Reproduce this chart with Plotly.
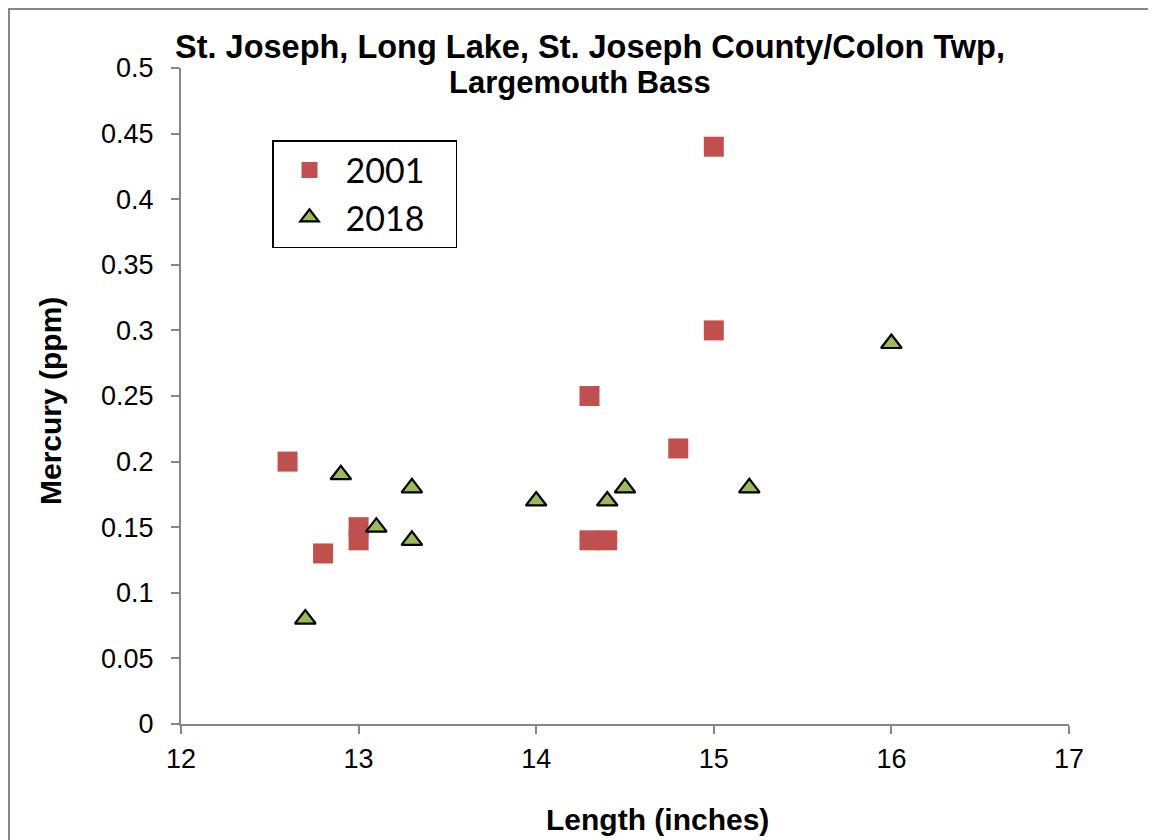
import plotly.graph_objects as go

x_2001 = [12.6, 12.8, 13.0, 13.0, 14.3, 14.3, 14.4, 14.8, 15.0, 15.0]
y_2001 = [0.20, 0.13, 0.15, 0.14, 0.25, 0.14, 0.14, 0.21, 0.44, 0.30]
x_2018 = [12.7, 12.9, 13.1, 13.3, 13.3, 14.0, 14.4, 14.5, 15.2, 16.0]
y_2018 = [0.08, 0.19, 0.15, 0.18, 0.14, 0.17, 0.17, 0.18, 0.18, 0.29]

series_names = ["2001", "2018"]
title_lines = ["St. Joseph, Long Lake, St. Joseph County/Colon Twp,", "Largemouth Bass"]
x_title = "Length (inches)"
y_title = "Mercury (ppm)"

ARIAL = "Arial, Liberation Sans, sans-serif"

# page offset of the plot div (body margin)
OFF = 8
PL, PR, PT, PB = 181, 1069, 68, 724  # plot area in page pixels


def px(page_x):
    return (page_x - PL) / (PR - PL)


def py(page_y):
    return (PB - page_y) / (PB - PT)


fig = go.Figure()
fig.add_trace(go.Scatter(x=x_2001, y=y_2001, mode="markers", name=series_names[0] + "\u2003",
                         marker=dict(symbol="square", size=20, color="#C0504D",
                                     line=dict(width=0))))
fig.add_trace(go.Scatter(x=x_2018, y=y_2018, mode="markers", name=series_names[1] + "\u2003",
                         marker=dict(symbol="triangle-up", size=18, color="#9BBB59",
                                     line=dict(width=2.2, color="black"))))

axis_common = dict(showgrid=False, zeroline=False, showline=True, linecolor="#868686",
                   linewidth=2, ticks="outside", ticklen=8, tickwidth=2, tickcolor="#868686",
                   tickfont=dict(family=ARIAL, size=27, color="black"))

fig.update_xaxes(range=[12, 17], dtick=1, ticklabelstandoff=2, **axis_common)
fig.update_yaxes(range=[0, 0.5], dtick=0.05, tickformat="~g", ticklabelstandoff=12, **axis_common)

W, H = 1156 - OFF, 840 - OFF
fig.update_layout(
    width=W, height=H,
    margin=dict(l=PL - OFF, r=W - (PR - OFF), t=PT - OFF, b=H - (PB - OFF)),
    paper_bgcolor="white", plot_bgcolor="white",
    showlegend=True,
    legend=dict(x=px(272), y=py(140), xanchor="left", yanchor="top",
                bordercolor="black", borderwidth=1.5, bgcolor="white",
                font=dict(family="Lato, Carlito, sans-serif", size=34, color="black"),
                itemwidth=62, tracegroupgap=0),
    annotations=[
        dict(text="<b>" + title_lines[0] + "</b>", xref="paper", yref="paper",
             x=px(590), y=py(47), xanchor="center", yanchor="middle",
             showarrow=False, font=dict(family=ARIAL, size=32.5, color="black")),
        dict(text="<b>" + title_lines[1] + "</b>", xref="paper", yref="paper",
             x=px(580), y=py(83), xanchor="center", yanchor="middle",
             showarrow=False, font=dict(family=ARIAL, size=31, color="black")),
        dict(text="<b>" + x_title + "</b>", xref="paper", yref="paper",
             x=px(657), y=py(820), xanchor="center", yanchor="middle",
             showarrow=False, font=dict(family=ARIAL, size=30, color="black")),
        dict(text="<b>" + y_title + "</b>", xref="paper", yref="paper",
             x=px(51), y=py(401), xanchor="center", yanchor="middle",
             textangle=-90, showarrow=False,
             font=dict(family=ARIAL, size=30, color="black")),
    ],
    shapes=[dict(type="rect", xref="paper", yref="paper",
                 x0=px(OFF + 1), x1=px(1152),
                 y0=py(880), y1=py(OFF + 1),
                 line=dict(color="#868686", width=2), fillcolor="rgba(0,0,0,0)", layer="below")],
)

fig.write_html("out.html")
